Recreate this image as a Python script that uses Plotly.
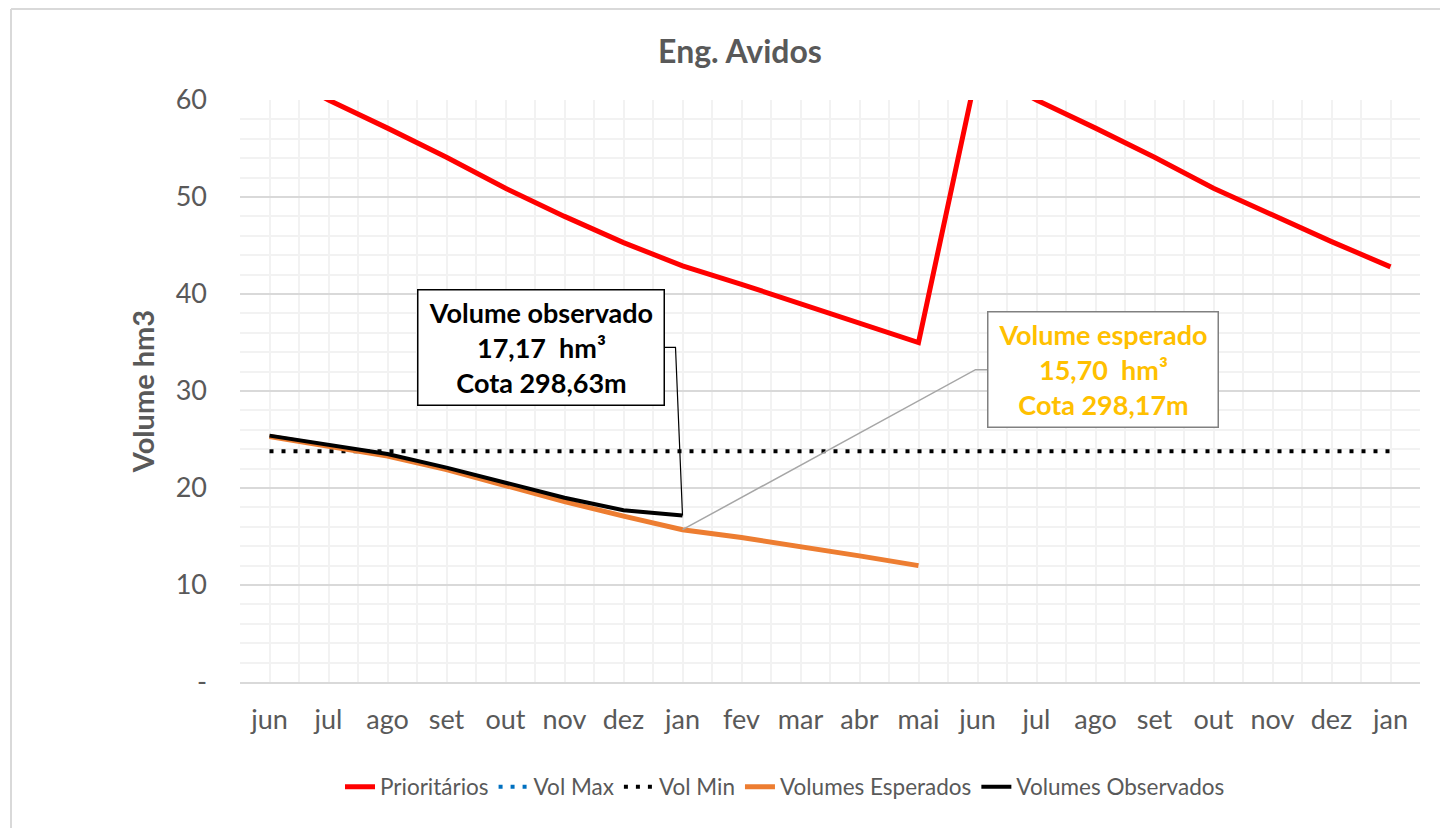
import plotly.graph_objects as go

# ---------------- data ----------------
months = ["jun", "jul", "ago", "set", "out", "nov", "dez", "jan", "fev", "mar",
          "abr", "mai", "jun", "jul", "ago", "set", "out", "nov", "dez", "jan"]
prioritarios = [63.3, 60.0, 57.1, 54.1, 50.9, 48.0, 45.3, 42.9, 41.0, 39.0,
                37.1, 35.0, 63.3, 60.0, 57.1, 54.1, 50.9, 48.1, 45.4, 42.8]
vol_max = [65.0] * 20
vol_min = [23.8] * 20
vol_esperados = [25.3, 24.3, 23.3, 21.9, 20.2, 18.6, 17.1, 15.70, 14.9, 14.0,
                 13.0, 12.0] + [None] * 8
vol_observados = [25.4, 24.5, 23.5, 22.1, 20.5, 19.0, 17.7, 17.17] + [None] * 12
ytick_vals = [0, 10, 20, 30, 40, 50, 60]
ytick_text = ["-", "10", "20", "30", "40", "50", "60"]

obs_label = "Volume observado<br>17,17  hm³<br>Cota 298,63m"
esp_label = "Volume esperado<br>15,70  hm³<br>Cota 298,17m"
jan_idx = 7

x = list(range(len(months)))
GRAY = "#595959"
FONT = "Lato"

fig = go.Figure()
fig.add_trace(go.Scatter(x=x, y=prioritarios, name="Prioritários", mode="lines",
                         line=dict(color="#FF0000", width=5)))
fig.add_trace(go.Scatter(x=x, y=vol_max, name="Vol Max", mode="lines",
                         line=dict(color="#0070C0", width=4, dash="4px,8px")))
fig.add_trace(go.Scatter(x=x, y=vol_min, name="Vol Min", mode="lines",
                         line=dict(color="#000000", width=4, dash="4px,8px")))
fig.add_trace(go.Scatter(x=x, y=vol_esperados, name="Volumes Esperados", mode="lines",
                         line=dict(color="#ED7D31", width=5)))
fig.add_trace(go.Scatter(x=x, y=vol_observados, name="Volumes Observados", mode="lines",
                         line=dict(color="#000000", width=4)))

# page body adds an 8px margin, so the figure is 8px smaller and shifted
OFF = 8
W, H = 1448 - OFF, 828 - OFF
L, R, T, B = 240 - OFF, 28, 100 - OFF, 146
pw, ph = W - L - R, H - T - B

def px_x(p):
    return (p - OFF - L) / pw

def px_y(p):
    return (H - B - (p - OFF)) / ph

fig.update_layout(
    width=W, height=H,
    margin=dict(l=L, r=R, t=T, b=B),
    paper_bgcolor="white", plot_bgcolor="white",
    font=dict(family=FONT, color=GRAY),
    title=dict(text="<b>Eng. Avidos</b>", font=dict(family=FONT, size=32, color=GRAY),
               x=(740 - OFF) / W, xref="container", xanchor="center",
               y=1 - (52 - OFF) / H, yref="container", yanchor="middle"),
    showlegend=True,
    legend=dict(orientation="h", x=px_x(785), xanchor="center", y=px_y(787), yanchor="middle",
                font=dict(family=FONT, size=22.5, color=GRAY), bgcolor="rgba(0,0,0,0)"),
    xaxis=dict(range=[-0.5, len(months) - 0.5], tickvals=x, ticktext=months,
               showgrid=True, gridcolor="#F2F2F2", gridwidth=2,
               minor=dict(tick0=0.5, dtick=1, showgrid=True, gridcolor="#F2F2F2", gridwidth=2),
               showline=True, linecolor="#D9D9D9", linewidth=2, zeroline=False,
               ticks="", tickfont=dict(family=FONT, size=27, color=GRAY),
               ticklabelstandoff=13, fixedrange=True),
    yaxis=dict(range=[0, 60], tickvals=ytick_vals, ticktext=ytick_text,
               showgrid=True, gridcolor="#D9D9D9", gridwidth=2,
               minor=dict(dtick=2, showgrid=True, gridcolor="#F2F2F2", gridwidth=2),
               zeroline=False, showline=False, ticks="",
               tickfont=dict(family=FONT, size=27, color=GRAY),
               ticklabelstandoff=32,
               title=dict(text="<b>Volume hm3</b>", font=dict(family=FONT, size=29, color=GRAY),
                          standoff=12),
               fixedrange=True),
)

# chart-area border (left and top edges visible)
fig.add_shape(type="line", xref="paper", yref="paper", x0=px_x(11), x1=px_x(11),
              y0=px_y(840), y1=px_y(9), line=dict(color="#D9D9D9", width=2), layer="below")
fig.add_shape(type="line", xref="paper", yref="paper", x0=px_x(11), x1=px_x(1460),
              y0=px_y(9), y1=px_y(9), line=dict(color="#D9D9D9", width=2), layer="below")

# leader lines (pixel offsets relative to the labelled data points)
fig.add_shape(type="path", xref="x", yref="y", xsizemode="pixel", ysizemode="pixel",
              xanchor=jan_idx, yanchor=vol_observados[jan_idx],
              path="M0,0 L-7,168 L-18,168", line=dict(color="#000000", width=1.2))
fig.add_shape(type="path", xref="x", yref="y", xsizemode="pixel", ysizemode="pixel",
              xanchor=jan_idx, yanchor=vol_esperados[jan_idx],
              path="M0,0 L293,160 L305,160", line=dict(color="#A6A6A6", width=1.5))

# data-label boxes
fig.add_annotation(x=jan_idx, y=vol_observados[jan_idx], xref="x", yref="y",
                   text="<b>" + obs_label + "</b>", showarrow=False,
                   xshift=-141.5, yshift=168, xanchor="center", yanchor="middle",
                   width=241, height=110, align="center",
                   bgcolor="white", bordercolor="#000000", borderwidth=1.5, borderpad=2,
                   font=dict(family=FONT, size=27, color="#000000"))
fig.add_annotation(x=jan_idx, y=vol_esperados[jan_idx], xref="x", yref="y",
                   text="<b>" + esp_label + "</b>", showarrow=False,
                   xshift=420.5, yshift=160.7, xanchor="center", yanchor="middle",
                   width=225, height=110, align="center",
                   bgcolor="white", bordercolor="#808080", borderwidth=1.5, borderpad=2,
                   font=dict(family=FONT, size=27, color="#FFC000"))

fig.write_html("out.html")
